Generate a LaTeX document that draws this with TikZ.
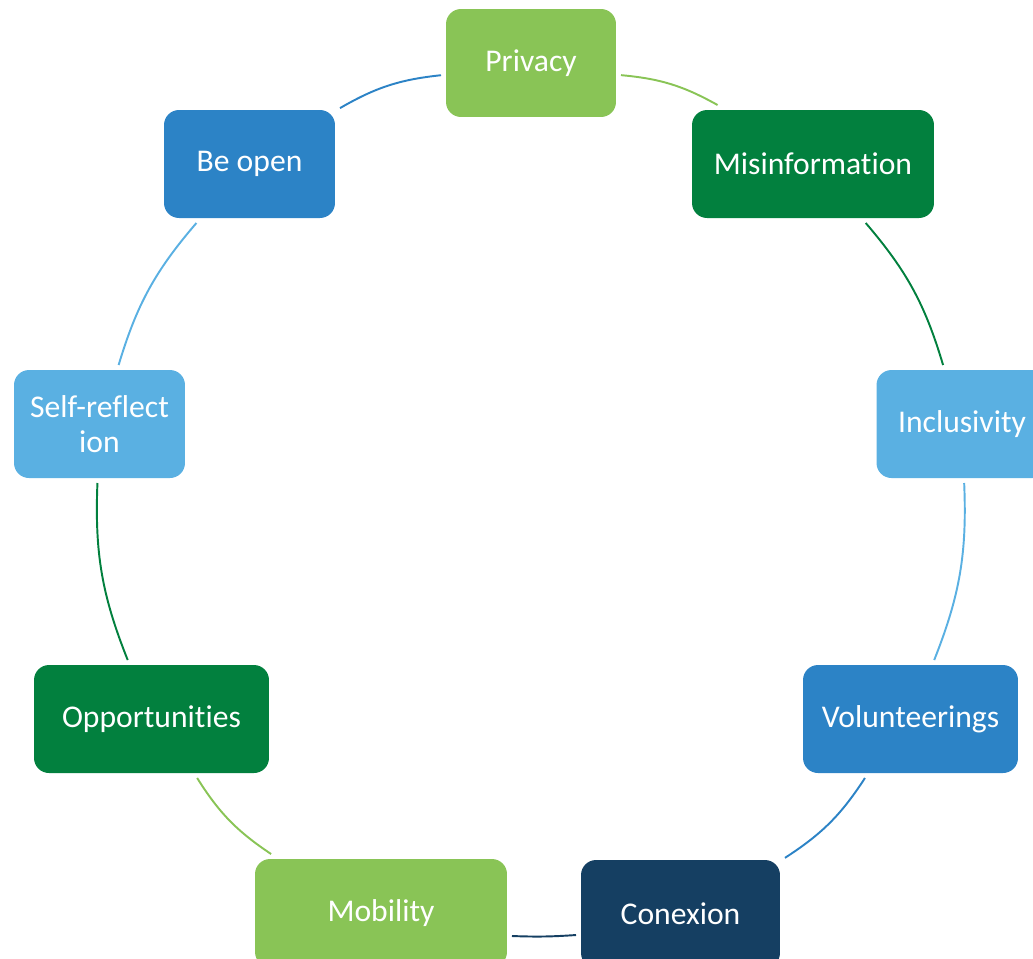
\documentclass[tikz,border=0pt]{standalone}
\usepackage{fontspec}
\setmainfont{Carlito}[Ligatures=NoCommon]
\usepackage{xcolor}
\usepackage{tikz}

\definecolor{lgreen}{RGB}{137,196,86}
\definecolor{dgreen}{RGB}{2,128,62}
\definecolor{lblue}{RGB}{90,176,226}
\definecolor{mblue}{RGB}{44,131,198}
\definecolor{navy}{RGB}{21,63,98}

\begin{document}
\begin{tikzpicture}[x=0.02cm,y=-0.02cm,
	box/.style={rounded corners=0.3cm,minimum height=2.16cm,inner sep=0pt,outer sep=0.1cm,text=white,align=center,font=\fontsize{18}{20}\selectfont},
	link/.style={line width=1.1pt}]
	\useasboundingbox (0,0) rectangle (1033,958);
	%
	\node[box,fill=lgreen,minimum width=3.4cm] (privacy) at (531,63) {Privacy};
	\node[box,fill=dgreen,minimum width=4.84cm] (misinfo) at (813,164) {Misinformation};
	\node[box,fill=lblue,minimum width=3.42cm] (inclus) at (962,424) {Inclusivity};
	\node[box,fill=mblue,minimum width=4.3cm] (volunt) at (910.5,719) {Volunteerings};
	\node[box,fill=navy,minimum width=3.98cm] (conexion) at (680.5,914) {Conexion};
	\node[box,fill=lgreen,minimum width=5.04cm] (mobility) at (381,913) {Mobility};
	\node[box,fill=dgreen,minimum width=4.7cm] (opport) at (151.5,719) {Opportunities};
	\node[box,fill=lblue,minimum width=3.42cm] (selfref) at (99.5,424) {Self-reflect\\ion};
	\node[box,fill=mblue,minimum width=3.42cm] (beopen) at (249.5,164) {Be open};
	%
	\draw[link,lgreen] (privacy) to[bend left=12] (misinfo);
	\draw[link,dgreen] (misinfo) to[bend left=12] (inclus);
	\draw[link,lblue] (inclus) to[bend left=12] (volunt);
	\draw[link,mblue] (volunt) to[bend left=12] (conexion);
	\draw[link,navy] ([yshift=-0.42cm]conexion.west) to[bend left=3] ([yshift=-0.46cm]mobility.east);
	\draw[link,lgreen] (mobility) to[bend left=12] (opport);
	\draw[link,dgreen] (opport) to[bend left=12] (selfref);
	\draw[link,lblue] (selfref) to[bend left=12] (beopen);
	\draw[link,mblue] (beopen) to[bend left=12] (privacy);
\end{tikzpicture}
\end{document}
